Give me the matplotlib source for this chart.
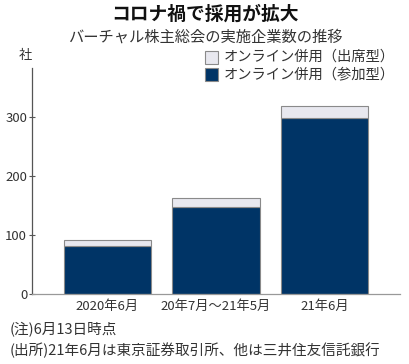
import matplotlib
matplotlib.use("Agg")
import matplotlib.pyplot as plt
from matplotlib.patches import Rectangle

plt.rcParams['font.family'] = ['Noto Sans CJK JP', 'DejaVu Sans']

categories = ["2020年6月", "20年7月～21年5月", "21年6月"]
participate = [82, 147, 298]   # オンライン併用（参加型）
attend = [9, 15, 20]           # オンライン併用（出席型）
yticks = [0, 100, 200, 300]

title = "コロナ禍で採用が拡大"
subtitle = "バーチャル株主総会の実施企業数の推移"
legend_labels = ["オンライン併用（出席型）", "オンライン併用（参加型）"]
note = "(注)6月13日時点"
source = "(出所)21年6月は東京証券取引所、他は三井住友信託銀行"

dark = "#003466"
light = "#e8e8ef"
edge = "#8a8a8a"
txt = "#333333"

W, H = 410, 364
fig = plt.figure(figsize=(W/100, H/100), dpi=100)
ax = fig.add_axes([32/W, (H-294)/H, (400-32)/W, (294-68)/H])

x = list(range(len(categories)))
ax.bar(x, participate, width=0.8, color=dark, edgecolor=edge, linewidth=0.8, zorder=2)
ax.bar(x, attend, bottom=participate, width=0.8, color=light, edgecolor=edge, linewidth=0.8, zorder=2)

ax.set_xlim(-0.69, 2.69)
ax.set_ylim(0, 383)
ax.set_yticks(yticks)
ax.set_yticklabels([str(v) for v in yticks], fontsize=9.5, color=txt)
ax.set_xticks(x)
ax.set_xticklabels(categories, fontsize=9.5, color=txt)
ax.tick_params(axis='x', length=0, pad=4)
ax.tick_params(axis='y', direction='inout', length=5, width=0.8, color="#555555", pad=1)
for s in ['top', 'right']:
    ax.spines[s].set_visible(False)
ax.spines['left'].set_color("#555555")
ax.spines['bottom'].set_color("#999999")
ax.spines['left'].set_linewidth(0.9)
ax.spines['bottom'].set_linewidth(0.9)

fig.text(205/W, 1-14.5/H, title, ha='center', va='center', fontsize=13.5, fontweight='bold', color='#111111')
fig.text(205/W, 1-37.5/H, subtitle, ha='center', va='center', fontsize=11, color=txt)
fig.text(25/W, 1-56/H, "社", ha='center', va='center', fontsize=9.5, color=txt)

for i, (lab, col) in enumerate(zip(legend_labels, [light, dark])):
    yc = 57 + i*17.5
    fig.patches.append(Rectangle((205/W, 1-(yc+6.5)/H), 13/W, 13/H, transform=fig.transFigure,
                                 facecolor=col, edgecolor=edge, linewidth=0.8))
    fig.text(224/W, 1-yc/H, lab, ha='left', va='center', fontsize=10.3, color=txt)

fig.text(10/W, 1-330/H, note, ha='left', va='center', fontsize=10.5, color=txt)
fig.text(10/W, 1-350/H, source, ha='left', va='center', fontsize=10.5, color=txt)

fig.savefig("out.png", dpi=100)
